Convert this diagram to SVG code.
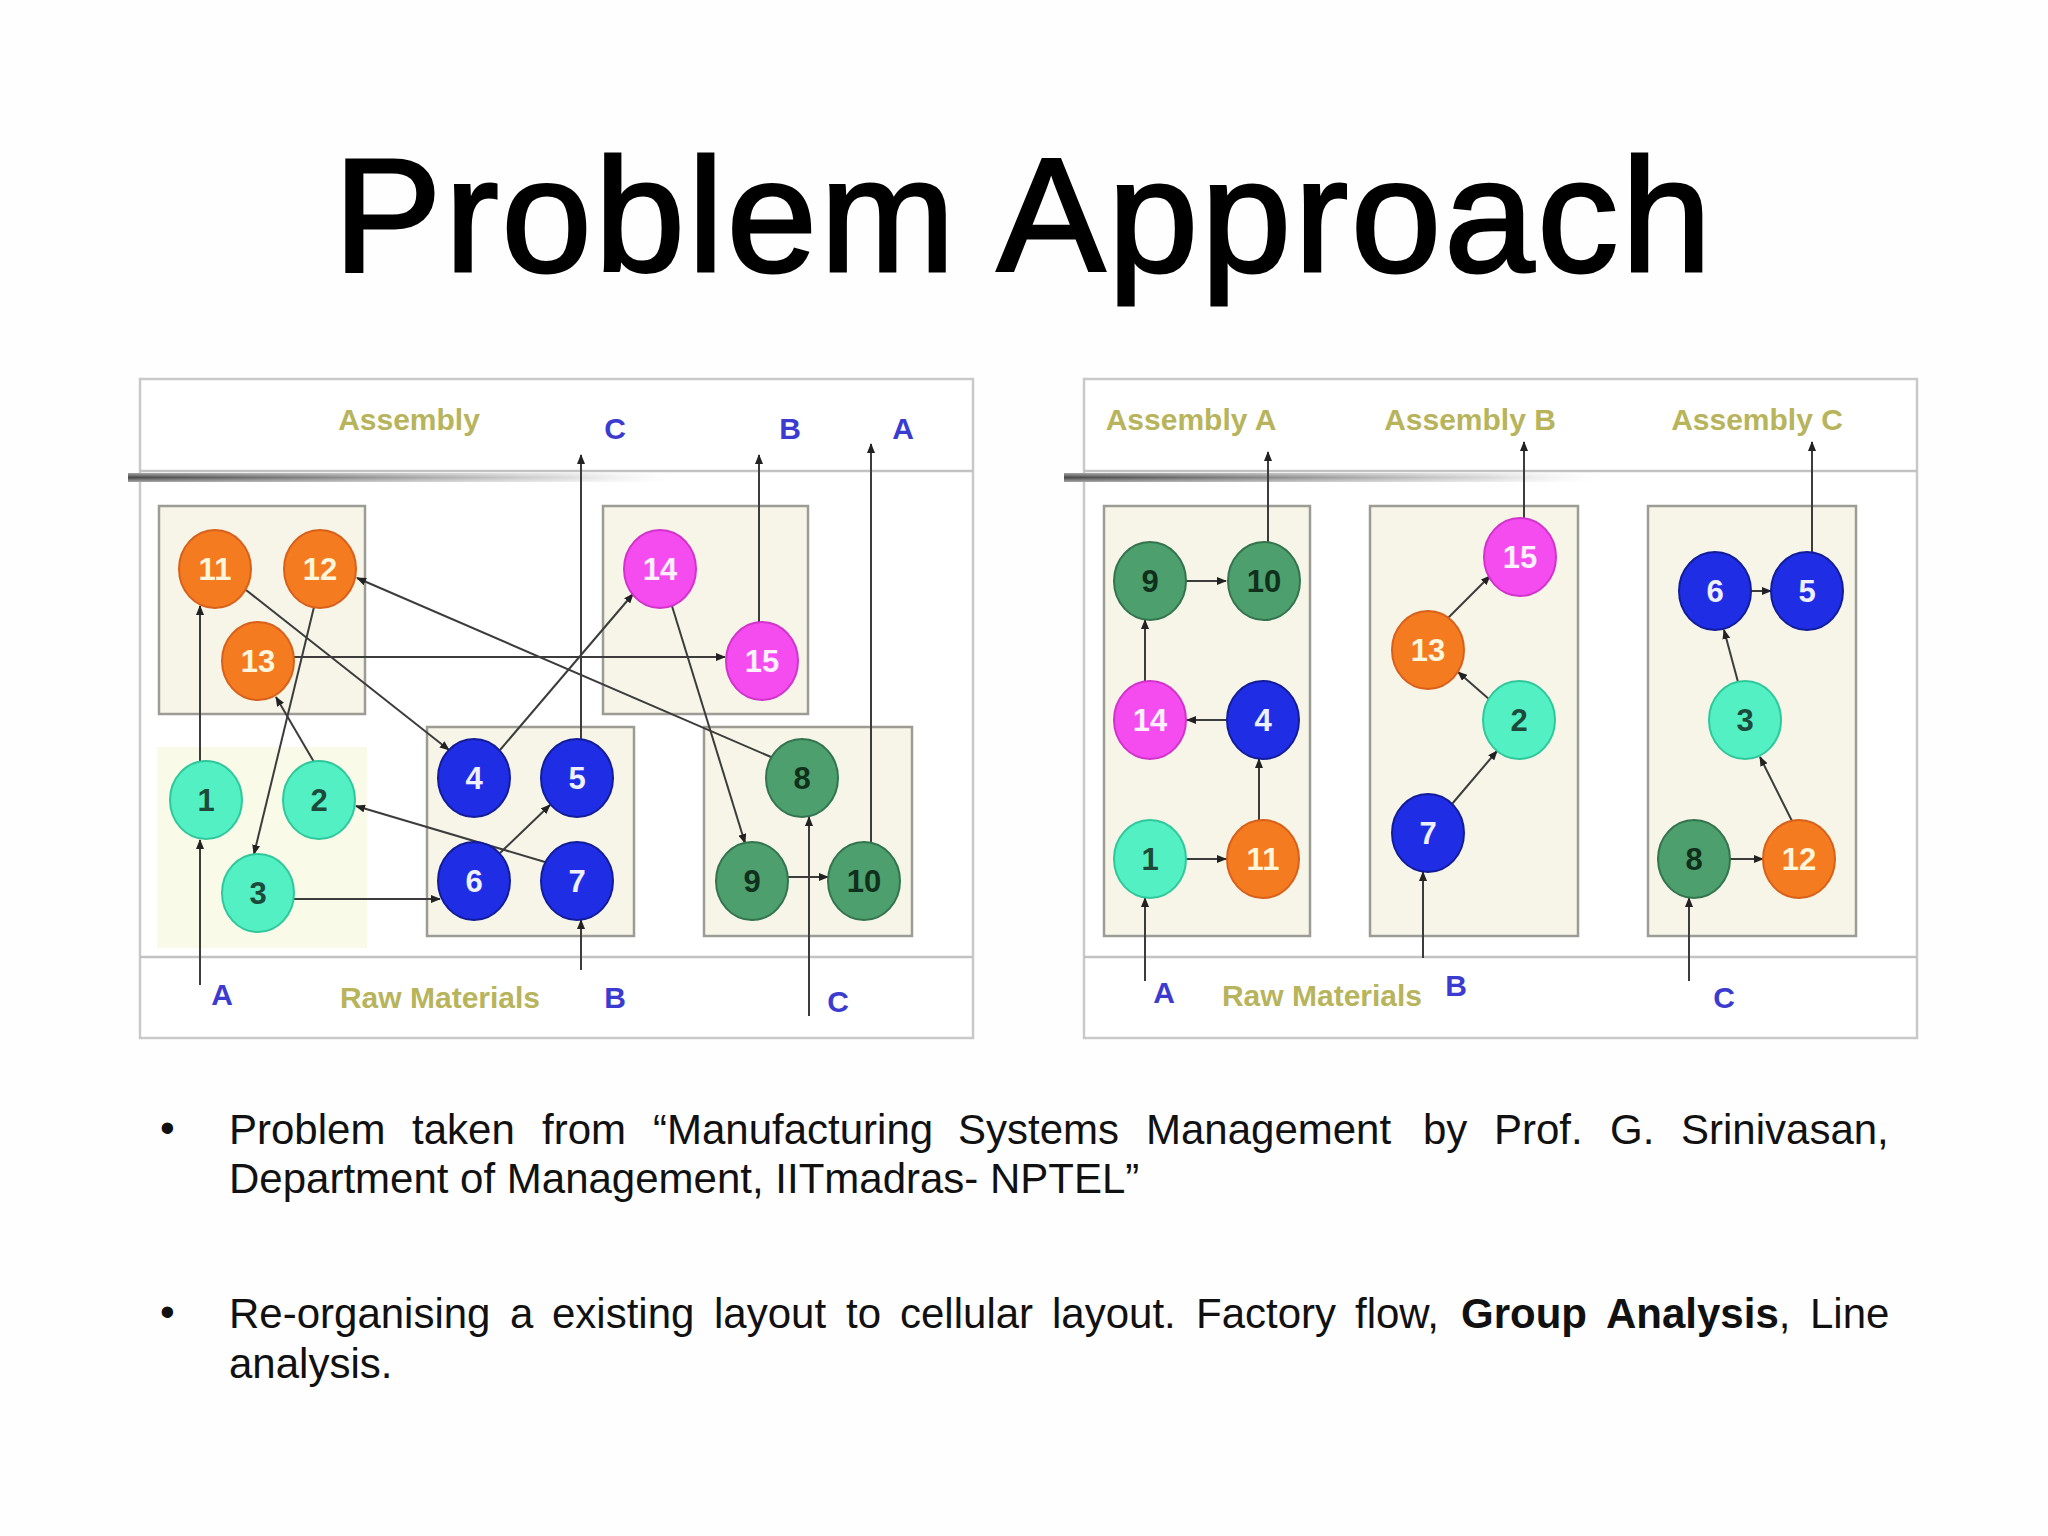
<svg xmlns="http://www.w3.org/2000/svg" width="2048" height="1536" viewBox="0 0 2048 1536">
<defs>
<style>
.title{font-family:"Liberation Sans",Arial,sans-serif;font-size:162px;letter-spacing:3px;fill:#000;stroke:#000;stroke-width:3}
.body{font-family:"Liberation Sans",Arial,sans-serif;font-size:42px;fill:#111}
.bold{font-weight:bold}
.panel{fill:#fff;stroke:#c9c9c9;stroke-width:2.5}
.divider{stroke:#c2c2c2;stroke-width:2.5}
.cell{fill:#f6f5e7;stroke:#9c9c94;stroke-width:2.5}
.hdr{font-family:"Liberation Sans",Arial,sans-serif;font-size:30px;font-weight:bold;fill:#b7b45c;text-anchor:middle}
.let{font-family:"Liberation Sans",Arial,sans-serif;font-size:30px;font-weight:bold;fill:#3b3bd0;text-anchor:middle}
.num{font-family:"Liberation Sans",Arial,sans-serif;font-size:31px;font-weight:bold;text-anchor:middle;dominant-baseline:central}
.or ellipse{fill:#f47b20;stroke:#d8601a;stroke-width:2}
.or text{fill:#fff6dc}
.mg ellipse{fill:#f54cef;stroke:#d233cc;stroke-width:2}
.mg text{fill:#fff0ff}
.tl ellipse{fill:#53f0c4;stroke:#2fc89c;stroke-width:2}
.tl text{fill:#1d4a3a}
.bl ellipse{fill:#1f2ee4;stroke:#121c9a;stroke-width:2}
.bl text{fill:#eef0ff}
.gr ellipse{fill:#4d9f6e;stroke:#33744e;stroke-width:2}
.gr text{fill:#10301c}
.edge{stroke:#3c3c3c;stroke-width:2;fill:none;marker-end:url(#ah)}
</style>
<marker id="ah" markerUnits="userSpaceOnUse" markerWidth="10" markerHeight="8" refX="9" refY="4" orient="auto">
<path d="M0,0 L10,4 L0,8 z" fill="#222"/>
</marker>
<linearGradient id="shadowL" x1="0" y1="0" x2="1" y2="0">
<stop offset="0" stop-color="#4a4a4a"/>
<stop offset="0.35" stop-color="#858585"/>
<stop offset="0.8" stop-color="#d8d8d8"/>
<stop offset="1" stop-color="#e8e8e8" stop-opacity="0"/>
</linearGradient>
<linearGradient id="shadowV" x1="0" y1="0" x2="0" y2="1">
<stop offset="0" stop-color="#fff" stop-opacity="0.5"/>
<stop offset="0.5" stop-color="#fff" stop-opacity="0"/>
<stop offset="1" stop-color="#fff" stop-opacity="0.5"/>
</linearGradient>
</defs>
<rect width="2048" height="1536" fill="#fefefe"/>

<text class="title" x="1024" y="271" text-anchor="middle">Problem Approach</text>

<!-- LEFT PANEL -->
<g id="panel-left">
<rect class="panel" x="140" y="379" width="833" height="659"/>
<line class="divider" x1="140" y1="471" x2="973" y2="471"/>
<rect x="128" y="473" width="540" height="9" fill="url(#shadowL)"/>
<rect x="128" y="473" width="540" height="9" fill="url(#shadowV)"/>
<line class="divider" x1="140" y1="957" x2="973" y2="957"/>
<text class="hdr" x="409" y="430">Assembly</text>
<text class="let" x="615" y="439">C</text>
<text class="let" x="790" y="439">B</text>
<text class="let" x="903" y="439">A</text>
<text class="let" x="222" y="1005">A</text>
<text class="hdr" x="440" y="1008">Raw Materials</text>
<text class="let" x="615" y="1008">B</text>
<text class="let" x="838" y="1012">C</text>
<rect class="cell" x="159" y="506" width="206" height="208"/>
<rect class="cell" x="603" y="506" width="205" height="208"/>
<rect class="cell" x="427" y="727" width="207" height="209"/>
<rect class="cell" x="704" y="727" width="208" height="209"/>
<rect x="157" y="747" width="210" height="201" fill="#fafae8"/>
</g>

<!-- RIGHT PANEL -->
<g id="panel-right">
<rect class="panel" x="1084" y="379" width="833" height="659"/>
<line class="divider" x1="1084" y1="471" x2="1917" y2="471"/>
<rect x="1064" y="473" width="530" height="9" fill="url(#shadowL)"/>
<rect x="1064" y="473" width="530" height="9" fill="url(#shadowV)"/>
<line class="divider" x1="1084" y1="957" x2="1917" y2="957"/>
<text class="hdr" x="1191" y="430">Assembly A</text>
<text class="hdr" x="1470" y="430">Assembly B</text>
<text class="hdr" x="1757" y="430">Assembly C</text>
<text class="let" x="1164" y="1003">A</text>
<text class="hdr" x="1322" y="1006">Raw Materials</text>
<text class="let" x="1456" y="996">B</text>
<text class="let" x="1724" y="1008">C</text>
<rect class="cell" x="1104" y="506" width="206" height="430"/>
<rect class="cell" x="1370" y="506" width="208" height="430"/>
<rect class="cell" x="1648" y="506" width="208" height="430"/>
</g>

<g id="connectors">
<!-- left -->
<line class="edge" x1="200" y1="761" x2="200" y2="606"/>
<line class="edge" x1="200" y1="985" x2="200" y2="840"/>
<line class="edge" x1="246" y1="590" x2="449" y2="750"/>
<line class="edge" x1="314" y1="607" x2="254" y2="854"/>
<line class="edge" x1="314" y1="762" x2="276" y2="697"/>
<line class="edge" x1="294" y1="657" x2="725" y2="657"/>
<line class="edge" x1="771" y1="757" x2="357" y2="578"/>
<line class="edge" x1="500" y1="750" x2="633" y2="594"/>
<line class="edge" x1="672" y1="606" x2="745" y2="843"/>
<line class="edge" x1="545" y1="862" x2="356" y2="806"/>
<line class="edge" x1="500" y1="853" x2="550" y2="805"/>
<line class="edge" x1="294" y1="899" x2="440" y2="899"/>
<line class="edge" x1="788" y1="877" x2="828" y2="877"/>
<line class="edge" x1="581" y1="970" x2="581" y2="920"/>
<line class="edge" x1="581" y1="740" x2="581" y2="455"/>
<line class="edge" x1="759" y1="623" x2="759" y2="455"/>
<line class="edge" x1="871" y1="843" x2="871" y2="444"/>
<line class="edge" x1="809" y1="1016" x2="809" y2="817"/>
<!-- right -->
<line class="edge" x1="1268" y1="543" x2="1268" y2="452"/>
<line class="edge" x1="1186" y1="581" x2="1226" y2="581"/>
<line class="edge" x1="1145" y1="681" x2="1145" y2="620"/>
<line class="edge" x1="1226" y1="720" x2="1187" y2="720"/>
<line class="edge" x1="1259" y1="820" x2="1259" y2="759"/>
<line class="edge" x1="1186" y1="859" x2="1226" y2="859"/>
<line class="edge" x1="1145" y1="981" x2="1145" y2="898"/>
<line class="edge" x1="1524" y1="519" x2="1524" y2="442"/>
<line class="edge" x1="1448" y1="618" x2="1490" y2="576"/>
<line class="edge" x1="1490" y1="700" x2="1458" y2="672"/>
<line class="edge" x1="1452" y1="804" x2="1497" y2="751"/>
<line class="edge" x1="1423" y1="958" x2="1423" y2="872"/>
<line class="edge" x1="1812" y1="553" x2="1812" y2="442"/>
<line class="edge" x1="1751" y1="591" x2="1771" y2="591"/>
<line class="edge" x1="1738" y1="682" x2="1724" y2="630"/>
<line class="edge" x1="1792" y1="821" x2="1760" y2="757"/>
<line class="edge" x1="1730" y1="859" x2="1763" y2="859"/>
<line class="edge" x1="1689" y1="981" x2="1689" y2="898"/>
</g>

<!-- LEFT NODES -->
<g id="L11" class="or"><ellipse cx="215" cy="569" rx="36" ry="39"/><text class="num" x="215" y="569">11</text></g>
<g id="L12" class="or"><ellipse cx="320" cy="569" rx="36" ry="39"/><text class="num" x="320" y="569">12</text></g>
<g id="L13" class="or"><ellipse cx="258" cy="661" rx="36" ry="39"/><text class="num" x="258" y="661">13</text></g>
<g id="L14" class="mg"><ellipse cx="660" cy="569" rx="36" ry="39"/><text class="num" x="660" y="569">14</text></g>
<g id="L15" class="mg"><ellipse cx="762" cy="661" rx="36" ry="39"/><text class="num" x="762" y="661">15</text></g>
<g id="L1" class="tl"><ellipse cx="206" cy="800" rx="36" ry="39"/><text class="num" x="206" y="800">1</text></g>
<g id="L2" class="tl"><ellipse cx="319" cy="800" rx="36" ry="39"/><text class="num" x="319" y="800">2</text></g>
<g id="L3" class="tl"><ellipse cx="258" cy="893" rx="36" ry="39"/><text class="num" x="258" y="893">3</text></g>
<g id="L4" class="bl"><ellipse cx="474" cy="778" rx="36" ry="39"/><text class="num" x="474" y="778">4</text></g>
<g id="L5" class="bl"><ellipse cx="577" cy="778" rx="36" ry="39"/><text class="num" x="577" y="778">5</text></g>
<g id="L6" class="bl"><ellipse cx="474" cy="881" rx="36" ry="39"/><text class="num" x="474" y="881">6</text></g>
<g id="L7" class="bl"><ellipse cx="577" cy="881" rx="36" ry="39"/><text class="num" x="577" y="881">7</text></g>
<g id="L8" class="gr"><ellipse cx="802" cy="778" rx="36" ry="39"/><text class="num" x="802" y="778">8</text></g>
<g id="L9" class="gr"><ellipse cx="752" cy="881" rx="36" ry="39"/><text class="num" x="752" y="881">9</text></g>
<g id="L10" class="gr"><ellipse cx="864" cy="881" rx="36" ry="39"/><text class="num" x="864" y="881">10</text></g>

<!-- RIGHT NODES -->
<g id="R9" class="gr"><ellipse cx="1150" cy="581" rx="36" ry="39"/><text class="num" x="1150" y="581">9</text></g>
<g id="R10" class="gr"><ellipse cx="1264" cy="581" rx="36" ry="39"/><text class="num" x="1264" y="581">10</text></g>
<g id="R14" class="mg"><ellipse cx="1150" cy="720" rx="36" ry="39"/><text class="num" x="1150" y="720">14</text></g>
<g id="R4" class="bl"><ellipse cx="1263" cy="720" rx="36" ry="39"/><text class="num" x="1263" y="720">4</text></g>
<g id="R1" class="tl"><ellipse cx="1150" cy="859" rx="36" ry="39"/><text class="num" x="1150" y="859">1</text></g>
<g id="R11" class="or"><ellipse cx="1263" cy="859" rx="36" ry="39"/><text class="num" x="1263" y="859">11</text></g>
<g id="R15" class="mg"><ellipse cx="1520" cy="557" rx="36" ry="39"/><text class="num" x="1520" y="557">15</text></g>
<g id="R13" class="or"><ellipse cx="1428" cy="650" rx="36" ry="39"/><text class="num" x="1428" y="650">13</text></g>
<g id="R2" class="tl"><ellipse cx="1519" cy="720" rx="36" ry="39"/><text class="num" x="1519" y="720">2</text></g>
<g id="R7" class="bl"><ellipse cx="1428" cy="833" rx="36" ry="39"/><text class="num" x="1428" y="833">7</text></g>
<g id="R6" class="bl"><ellipse cx="1715" cy="591" rx="36" ry="39"/><text class="num" x="1715" y="591">6</text></g>
<g id="R5" class="bl"><ellipse cx="1807" cy="591" rx="36" ry="39"/><text class="num" x="1807" y="591">5</text></g>
<g id="R3" class="tl"><ellipse cx="1745" cy="720" rx="36" ry="39"/><text class="num" x="1745" y="720">3</text></g>
<g id="R8" class="gr"><ellipse cx="1694" cy="859" rx="36" ry="39"/><text class="num" x="1694" y="859">8</text></g>
<g id="R12" class="or"><ellipse cx="1799" cy="859" rx="36" ry="39"/><text class="num" x="1799" y="859">12</text></g>

<!-- BULLETS -->
<g id="bullets">
<text class="body" x="160" y="1142">•</text>
<text class="body" y="1144"><tspan x="229">Problem</tspan><tspan x="412">taken</tspan><tspan x="542">from</tspan><tspan x="653">“Manufacturing</tspan><tspan x="958">Systems</tspan><tspan x="1146">Management</tspan><tspan x="1423">by</tspan><tspan x="1494">Prof.</tspan><tspan x="1610">G.</tspan><tspan x="1681">Srinivasan,</tspan></text>
<text class="body" x="229" y="1193">Department of Management, IITmadras- NPTEL”</text>
<text class="body" x="160" y="1326">•</text>
<text class="body" y="1328"><tspan x="229">Re-organising</tspan><tspan x="510">a</tspan><tspan x="552">existing</tspan><tspan x="714">layout</tspan><tspan x="846">to</tspan><tspan x="900">cellular</tspan><tspan x="1052">layout.</tspan><tspan x="1196">Factory</tspan><tspan x="1355">flow,</tspan><tspan x="1461" class="bold">Group</tspan><tspan x="1606" class="bold">Analysis</tspan><tspan>,</tspan><tspan x="1810">Line</tspan></text>
<text class="body" x="229" y="1378">analysis.</text>
</g>
</svg>
